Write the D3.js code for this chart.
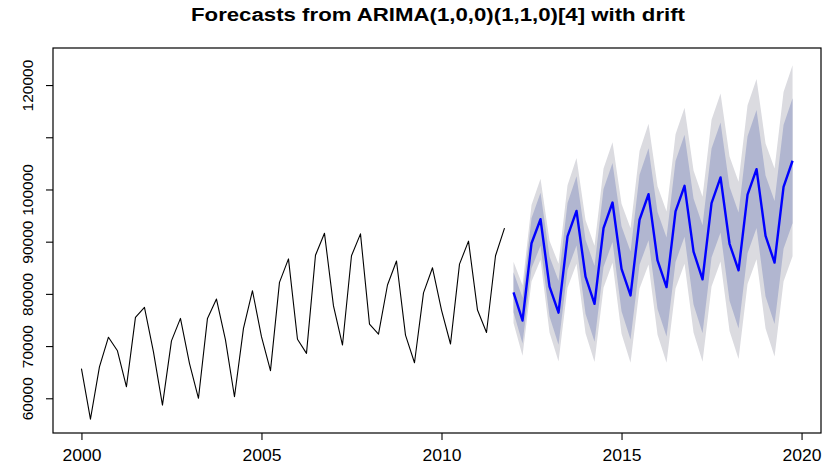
<!DOCTYPE html>
<html>
<head>
<meta charset="utf-8">
<script src="https://cdn.jsdelivr.net/npm/d3@7"></script>
<style>
  body { margin: 0; background: #fff; }
  text { font-family: "Liberation Sans", Arial, sans-serif; }
</style>
</head>
<body>
<svg id="chart" width="824" height="469"></svg>
<script>
// quarterly series, 2000 Q1 .. 2011 Q4
const obsStart = 2000;
const observed = [
  65700, 56000, 66000, 71700, 69100, 62200, 75500, 77400,
  68900, 58700, 71000, 75300, 66700, 60000, 75300, 79000,
  71200, 60300, 73400, 80600, 71800, 65300, 82200, 86700,
  71300, 68600, 87400, 91600, 77700, 70200, 87300, 91500,
  74200, 72300, 81700, 86300, 72100, 66800, 80200, 85000,
  76900, 70400, 85700, 90100, 76900, 72600, 87300, 92600
];

// forecasts, 2012 Q1 .. 2019 Q4
const fcStart = 2012;
const fcMean = [
  80300, 74900, 89700, 94300, 81400, 76400, 91000, 95900,
  83300, 78100, 92600, 97500, 84800, 79700, 94200, 99100,
  86400, 81300, 95800, 100700, 88100, 82800, 97400, 102300,
  89600, 84500, 99000, 103900, 91100, 86000, 100500, 105500
];
const lo80 = [
  76470, 70500, 84910, 89230, 75650, 70270, 84580, 89290,
  76210, 70820, 85130, 89940, 76660, 71270, 85580, 90290,
  77110, 71820, 86130, 90930, 77950, 72460, 86960, 91770,
  78680, 73390, 87800, 92600, 79510, 74220, 88630, 93530
];
const hi80 = [
  84130, 79300, 94490, 99370, 87150, 82530, 97420, 102510,
  90390, 85380, 100070, 105060, 92940, 88130, 102820, 107910,
  95690, 90780, 105470, 110470, 98250, 93140, 107840, 112830,
  100520, 95610, 110200, 115200, 102690, 97780, 112370, 117470
];
const lo95 = [
  74440, 68170, 82370, 86550, 72610, 67030, 81180, 85790,
  72460, 66970, 81180, 85940, 72350, 66810, 81020, 85630,
  72190, 66800, 81010, 85760, 72580, 66990, 81430, 86200,
  72900, 67510, 81870, 86620, 73380, 67990, 82350, 87200
];
const hi95 = [
  86160, 81630, 97030, 102050, 90190, 85770, 100820, 106010,
  94140, 89230, 104020, 109060, 97250, 92590, 107380, 112570,
  100610, 95800, 110590, 115640, 103620, 98610, 113370, 118400,
  106300, 101490, 116130, 121180, 108820, 104010, 118650, 123800
];

const xTicks = [2000, 2005, 2010, 2015, 2020];
const yTicks = [60000, 70000, 80000, 90000, 100000, 110000, 120000];
const yTickLabels = ["60000", "70000", "80000", "90000", "100000", "", "120000"];

const title = "Forecasts from ARIMA(1,0,0)(1,1,0)[4] with drift";

const plot = { left: 53, right: 821, top: 48, bottom: 433 };

const svg = d3.select("#chart");

let obs = observed.map((v, i) => ({ t: obsStart + i / 4, v: v }));
let fc = fcMean.map((v, i) => ({
  t: fcStart + i / 4, v: v,
  lo80: lo80[i], hi80: hi80[i], lo95: lo95[i], hi95: hi95[i]
}));

// R pads the range by 4% on each side
let tMin = obs[0].t, tMax = fc[fc.length - 1].t;
let tPad = (tMax - tMin) * 0.04;

let x = d3.scaleLinear()
  .domain([tMin - tPad, tMax + tPad])
  .range([plot.left, plot.right]);

let y = d3.scaleLinear()
  .domain([53350, 127100])
  .range([plot.bottom, plot.top]);

// prediction intervals
let band = (lo, hi) => d3.area()
  .x(d => x(d.t))
  .y0(d => y(d[lo]))
  .y1(d => y(d[hi]));

svg.append("path")
  .datum(fc)
  .attr("d", band("lo95", "hi95"))
  .attr("fill", "#dbdbe0");

svg.append("path")
  .datum(fc)
  .attr("d", band("lo80", "hi80"))
  .attr("fill", "#b1b6d0");

let line = d3.line()
  .x(d => x(d.t))
  .y(d => y(d.v));

svg.append("path")
  .datum(obs)
  .attr("d", line)
  .attr("fill", "none")
  .attr("stroke", "#000")
  .attr("stroke-width", 1.1)
  .attr("stroke-linejoin", "round");

svg.append("path")
  .datum(fc)
  .attr("d", line)
  .attr("fill", "none")
  .attr("stroke", "#0000ff")
  .attr("stroke-width", 2.4)
  .attr("stroke-linejoin", "round");

// box
svg.append("rect")
  .attr("x", plot.left)
  .attr("y", plot.top)
  .attr("width", plot.right - plot.left)
  .attr("height", plot.bottom - plot.top)
  .attr("fill", "none")
  .attr("stroke", "#000")
  .attr("stroke-width", 1.2);

// axes
let xAxis = svg.append("g")
  .attr("transform", `translate(0, ${plot.bottom})`)
  .call(d3.axisBottom(x).tickValues(xTicks).tickFormat(d3.format("d")).tickSize(7));

let yAxis = svg.append("g")
  .attr("transform", `translate(${plot.left}, 0)`)
  .call(d3.axisLeft(y).tickValues(yTicks).tickFormat((d, i) => yTickLabels[i]).tickSize(7));

[xAxis, yAxis].forEach(a => {
  a.select(".domain").remove();
  a.selectAll("line").attr("stroke", "#000").attr("stroke-width", 1.1);
  a.selectAll("text")
    .attr("fill", "#000")
    .attr("font-family", "Liberation Sans, Arial, sans-serif");
});

// the reference glyphs are a little wider than they are tall
xAxis.selectAll("text")
  .attr("font-size", 16)
  .attr("y", 28)
  .attr("dy", 0)
  .attr("textLength", 39)
  .attr("lengthAdjust", "spacingAndGlyphs");

yAxis.selectAll("text")
  .attr("font-size", 15.5)
  .attr("x", 0)
  .attr("dy", 0)
  .attr("text-anchor", "middle")
  .attr("transform", "translate(-20, 0) rotate(-90)");

svg.append("text")
  .attr("x", 438)
  .attr("y", 21)
  .attr("text-anchor", "middle")
  .attr("font-size", 18)
  .attr("font-weight", "bold")
  .attr("textLength", 494)
  .attr("lengthAdjust", "spacingAndGlyphs")
  .text(title);
</script>
</body>
</html>
